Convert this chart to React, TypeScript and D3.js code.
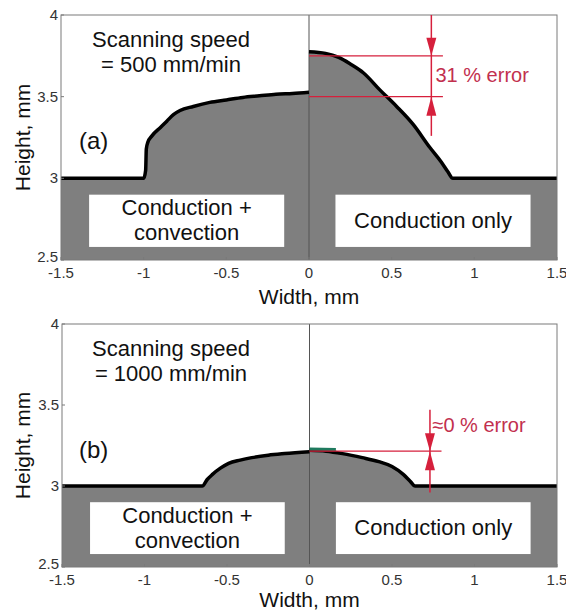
import React from "react";
import * as d3 from "d3";

// Axis ticks (mm)
const X_TICKS = [-1.5, -1, -0.5, 0, 0.5, 1, 1.5];
const Y_TICKS = [2.5, 3, 3.5, 4];

// (a) 500 mm/min — conduction + convection half (x ≤ 0)
const A_LEFT_X = [-1.5, -1.0, -0.988, -0.984, -0.975, -0.95, -0.9, -0.86, -0.82, -0.78, -0.7, -0.6, -0.5, -0.4, -0.3, -0.2, -0.1, 0];
const A_LEFT_Y = [3.0, 3.0, 3.05, 3.18, 3.22, 3.26, 3.31, 3.35, 3.39, 3.415, 3.44, 3.465, 3.48, 3.495, 3.505, 3.515, 3.52, 3.527];
// (a) conduction-only half (x ≥ 0)
const A_RIGHT_X = [0, 0.1, 0.18, 0.25, 0.33, 0.43, 0.53, 0.63, 0.73, 0.8, 0.84, 0.87, 1.5];
const A_RIGHT_Y = [3.775, 3.765, 3.74, 3.7, 3.645, 3.54, 3.44, 3.33, 3.19, 3.1, 3.04, 3.0, 3.0];

// (b) 1000 mm/min
const B_LEFT_X = [-1.5, -0.65, -0.62, -0.59, -0.54, -0.49, -0.42, -0.35, -0.25, -0.15, 0];
const B_LEFT_Y = [3.0, 3.0, 3.04, 3.07, 3.11, 3.14, 3.16, 3.175, 3.19, 3.2, 3.212];
const B_RIGHT_X = [0, 0.1, 0.2, 0.32, 0.42, 0.5, 0.57, 0.61, 0.64, 1.5];
const B_RIGHT_Y = [3.22, 3.215, 3.2, 3.175, 3.15, 3.12, 3.07, 3.03, 3.0, 3.0];

// Error annotations: heights compared and arrow position
const A_ERR_LEVELS = [3.75, 3.5];
const B_ERR_LEVELS = [3.215];
const ERR_LABELS = ["31 % error", "≈0 % error"];
const SPEED_LABELS = ["= 500 mm/min", "= 1000 mm/min"];
const PANEL_TAGS = ["(a)", "(b)"];

const FONT = "'Liberation Sans', Arial, sans-serif";
const GRAY = "#7f7f7f";
const RED = "#d6203c";
const RED_TEXT = "#c2304e";

type Pt = [number, number];
const zip = (xs: number[], ys: number[]): Pt[] => xs.map((x, i) => [x, ys[i]]);

interface PanelProps {
  top: number;
  left: number;
  right: number;
  height: number;
  xLabelGap: number;
  leftPts: Pt[];
  rightPts: Pt[];
  tag: string;
  speed: string;
  errLabel: string;
  errLevels: number[];
  arrowX: number;
  arrowTop: number;
  arrowBottom: number;
  lineEnd: number;
  labelX: number;
  labelY: number;
  mark?: Pt[];
}

function Panel(p: PanelProps) {
  const x = d3.scaleLinear().domain([-1.5, 1.5]).range([p.left, p.right]);
  const y = d3.scaleLinear().domain([2.5, 4]).range([p.top + p.height, p.top]);
  const curve = d3.curveMonotoneX;
  const area = d3
    .area<Pt>()
    .x((d) => x(d[0]))
    .y0(y(2.5))
    .y1((d) => y(d[1]))
    .curve(curve);
  const line = d3
    .line<Pt>()
    .x((d) => x(d[0]))
    .y((d) => y(d[1]))
    .curve(curve);

  const boxes = [
    { x0: -1.33, x1: -0.15, lines: ["Conduction +", "convection"] },
    { x0: 0.16, x1: 1.34, lines: ["Conduction only"] },
  ];
  const by0 = y(2.9);
  const by1 = y(2.58);
  const ax = x(p.arrowX);

  const arrowDown = (tipY: number) =>
    `M${ax - 5},${tipY - 18}L${ax + 5},${tipY - 18}L${ax},${tipY}Z`;
  const arrowUp = (tipY: number) =>
    `M${ax - 5},${tipY + 19}L${ax + 5},${tipY + 19}L${ax},${tipY}Z`;

  const upper = p.errLevels[0];
  const lower = p.errLevels[p.errLevels.length - 1];

  return (
    <g>
      <rect x={p.left} y={p.top} width={p.right - p.left} height={p.height} fill="#fff" />
      <path d={area(p.leftPts) ?? ""} fill={GRAY} />
      <path d={area(p.rightPts) ?? ""} fill={GRAY} />
      <line x1={x(0)} x2={x(0)} y1={p.top} y2={p.top + p.height} stroke="#555" strokeWidth={1} />
      <path d={line(p.leftPts) ?? ""} fill="none" stroke="#000" strokeWidth={3.5} strokeLinejoin="round" />
      <path d={line(p.rightPts) ?? ""} fill="none" stroke="#000" strokeWidth={3.5} strokeLinejoin="round" />
      {p.mark && (
        <path d={line(p.mark) ?? ""} fill="none" stroke="#1f7a5e" strokeWidth={3} />
      )}

      {boxes.map((b, i) => (
        <g key={i}>
          <rect x={x(b.x0)} y={by0} width={x(b.x1) - x(b.x0)} height={by1 - by0} fill="#fff" />
          {b.lines.map((t, j) => (
            <text
              key={j}
              x={(x(b.x0) + x(b.x1)) / 2}
              y={(by0 + by1) / 2 + 7 + (j - (b.lines.length - 1) / 2) * 25}
              textAnchor="middle"
              fontFamily={FONT}
              fontSize={22}
              fill="#111"
            >
              {t}
            </text>
          ))}
        </g>
      ))}

      {/* frame and ticks */}
      <rect x={p.left} y={p.top} width={p.right - p.left} height={p.height} fill="none" stroke="#7a7a7a" strokeWidth={1} />
      {X_TICKS.map((v) => (
        <g key={"x" + v}>
          <line x1={x(v)} x2={x(v)} y1={y(2.5)} y2={y(2.5) - 3} stroke="#7a7a7a" />
          <text x={x(v)} y={y(2.5) + 18} textAnchor="middle" fontFamily={FONT} fontSize={15} fill="#333">
            {String(v)}
          </text>
        </g>
      ))}
      {Y_TICKS.map((v) => (
        <g key={"y" + v}>
          <line x1={p.left} x2={p.left + 3} y1={y(v)} y2={y(v)} stroke="#7a7a7a" />
          <text x={p.left - 3} y={y(v) + (v === 2.5 ? 2 : 5)} textAnchor="end" fontFamily={FONT} fontSize={15} fill="#333">
            {String(v)}
          </text>
        </g>
      ))}
      <text
        x={(p.left + p.right) / 2}
        y={y(2.5) + p.xLabelGap}
        textAnchor="middle"
        fontFamily={FONT}
        fontSize={21}
        fill="#111"
      >
        Width, mm
      </text>
      <text
        transform={`translate(30,${p.top + p.height / 2}) rotate(-90)`}
        textAnchor="middle"
        fontFamily={FONT}
        fontSize={21}
        fill="#111"
      >
        Height, mm
      </text>

      {/* annotations */}
      <text x={171} y={p.top + 32} textAnchor="middle" fontFamily={FONT} fontSize={22} fill="#111">
        Scanning speed
      </text>
      <text x={171} y={p.top + 57} textAnchor="middle" fontFamily={FONT} fontSize={22} fill="#111">
        {p.speed}
      </text>
      <text x={79} y={p.top + 134} fontFamily={FONT} fontSize={24} fill="#111">
        {p.tag}
      </text>

      {p.errLevels.map((v, i) => (
        <line key={i} x1={x(0)} x2={x(p.lineEnd)} y1={y(v)} y2={y(v)} stroke={RED} strokeWidth={1.2} />
      ))}
      <line x1={ax} x2={ax} y1={y(p.arrowTop)} y2={y(p.arrowBottom)} stroke={RED} strokeWidth={1.5} />
      <path d={arrowDown(y(upper))} fill={RED} />
      <path d={arrowUp(y(lower))} fill={RED} />
      <text x={x(p.labelX)} y={y(p.labelY)} fontFamily={FONT} fontSize={20} fill={RED_TEXT}>
        {p.errLabel}
      </text>
    </g>
  );
}

export default function App() {
  return (
    <svg
      width={566}
      height={612}
      style={{ position: "absolute", left: 0, top: 0, background: "#fff" }}
    >
      <Panel
        top={15}
        left={61}
        right={557}
        height={245}
        xLabelGap={44}
        leftPts={zip(A_LEFT_X, A_LEFT_Y)}
        rightPts={zip(A_RIGHT_X, A_RIGHT_Y)}
        tag={PANEL_TAGS[0]}
        speed={SPEED_LABELS[0]}
        errLabel={ERR_LABELS[0]}
        errLevels={A_ERR_LEVELS}
        arrowX={0.74}
        arrowTop={4}
        arrowBottom={3.26}
        lineEnd={0.81}
        labelX={0.765}
        labelY={3.59}
      />
      <Panel
        top={324}
        left={62}
        right={557}
        height={243}
        xLabelGap={40}
        leftPts={zip(B_LEFT_X, B_LEFT_Y)}
        rightPts={zip(B_RIGHT_X, B_RIGHT_Y)}
        tag={PANEL_TAGS[1]}
        speed={SPEED_LABELS[1]}
        errLabel={ERR_LABELS[1]}
        errLevels={B_ERR_LEVELS}
        arrowX={0.73}
        arrowTop={3.47}
        arrowBottom={2.96}
        lineEnd={0.8}
        labelX={0.745}
        labelY={3.335}
        mark={[
          [0, 3.228],
          [0.16, 3.226],
        ]}
      />
    </svg>
  );
}
